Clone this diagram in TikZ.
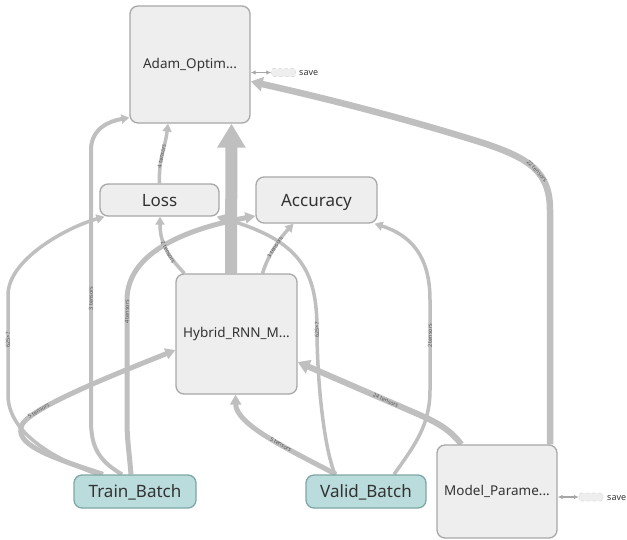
\documentclass[tikz,border=0pt]{standalone}
\usepackage{fontspec}
\setmainfont{Noto Sans}
\usetikzlibrary{arrows.meta,calc,backgrounds}
\definecolor{edgegray}{HTML}{BFBFBF}
\definecolor{nodefill}{HTML}{EEEEEE}
\definecolor{nodeline}{HTML}{A8A8A8}
\definecolor{batchfill}{HTML}{BADCDC}
\definecolor{batchline}{HTML}{7FA6A6}
\definecolor{txt}{HTML}{333333}
\definecolor{lbltxt}{HTML}{555555}
\begin{document}
\begin{tikzpicture}[x=1pt,y=-1pt,
  op/.style={draw=nodeline, fill=nodefill, line width=1.3pt, rounded corners=8pt,
             inner sep=0pt, text=txt},
  batch/.style={op, draw=batchline, fill=batchfill},
  big/.style={font=\fontsize{17}{17}\selectfont, text height=12pt, text depth=0pt},
  small/.style={font=\fontsize{13.5}{13.5}\selectfont},
  flow/.style={draw=edgegray, line width=3.5pt, -{Triangle[length=8pt,width=9pt]}},
  wide/.style={flow, line width=5pt, -{Triangle[length=10pt,width=11pt]}},
  heavy/.style={flow, line width=6.5pt, -{Triangle[length=12pt,width=14pt]}},
  lbl/.style={font=\fontsize{5.5}{5.5}\selectfont, text=lbltxt, sloped, inner sep=0pt},
  savebox/.style={draw=gray!55, dashed, fill=nodefill, rounded corners=2pt,
                  minimum width=24pt, minimum height=8pt, inner sep=0pt},
  savetext/.style={anchor=west, font=\fontsize{9}{9}\selectfont, text=txt, inner sep=0pt},
  savelink/.style={draw=gray!70, line width=1.2pt,
                   {Latex[length=5pt,width=4.5pt]}-{Latex[length=5pt,width=4.5pt]}},
  ]
\useasboundingbox (0,0) rectangle (627,539);

% operation nodes
\node[op, small, minimum width=120pt, minimum height=117pt] (adam) at (190,64.5) {Adam\_Optim...};
\node[op, big, minimum width=119pt, minimum height=32pt] (loss) at (159.5,200) {Loss};
\node[op, big, minimum width=121pt, minimum height=46pt] (acc) at (316.5,200) {Accuracy};
\node[op, small, minimum width=121pt, minimum height=120pt] (hyb) at (236.5,334) {Hybrid\_RNN\_M...};
\node[batch, big, minimum width=122pt, minimum height=33pt] (train) at (135,491.5) {Train\_Batch};
\node[batch, big, minimum width=120pt, minimum height=33pt] (valid) at (366,491.5) {Valid\_Batch};
\node[op, small, minimum width=120pt, minimum height=93pt] (model) at (497,491.5) {Model\_Parame...};

% save auxiliaries
\node[savebox] (s1) at (283.5,72.5) {};
\node[savetext] (s1t) at (299,73) {save};
\node[savebox] (s2) at (591,497) {};
\node[savetext] (s2t) at (607,498) {save};
\draw[savelink] (adam.east |- s1) -- (s1.west);
\draw[savelink] (model.east |- s2) -- (s2.west);

\begin{scope}[on background layer]
  % Hybrid -> Adam (heavy trunk)
  \draw[flow, line width=12pt, -{Triangle[length=24pt,width=27pt]}]
    ($(hyb.north)+(-5.5,0)$) -- ($(adam.south)+(41.5,0)$);

  % Loss -> Adam
  \draw[flow] (loss.north) .. controls +(-1,-25) and +(-3,25) ..
    node[lbl, pos=0.45] {4 tensors} ($(adam.south)+(-22,0)$);

  % Train_Batch -> Adam
  \draw[flow, line width=4pt] ($(train.north)+(-13,0)$) .. controls (97,460) and (91,445) .. (91,420)
    -- (91,150) node[lbl, pos=0.45] {3 tensors}
    .. controls (91,128) and (110,121) .. ($(adam.south west)+(0,-6)$);

  % Train_Batch -> Loss
  \draw[flow] ($(train.north)+(-37,0)$) .. controls (48,457) and (8,430) .. (8,395)
    -- (8,295) node[lbl, pos=0.55] {625×?}
    .. controls (8,260) and (65,228) .. ($(loss.south west)+(5,0)$);

  % Train_Batch -> Hybrid
  \draw[wide] ($(train.north)+(-32,0)$) .. controls (43,455) and (14,443) .. (22,425)
    .. controls (30,407) and (126,370) .. ($(hyb.west)+(0,16)$) node[lbl, pos=0.22] {5 tensors};

  % Train_Batch -> Accuracy
  \draw[wide] ($(train.north)+(-4,0)$) .. controls (129,450) and (127,440) .. (127,420)
    -- (127,300) node[lbl, pos=0.9] {4 tensors}
    .. controls (127,255) and (180,230) .. ($(acc.west)+(0,16)$);

  % Valid_Batch -> Loss
  \draw[flow] ($(valid.north)+(-31,0)$) .. controls (323,445) and (317,375) .. (317,330)
    node[lbl, pos=1] {625×?}
    .. controls (317,270) and (300,240) .. ($(loss.south east)+(-3,0)$);

  % Valid_Batch -> Accuracy
  \draw[flow] ($(valid.north)+(28,0)$) .. controls (415,445) and (430,425) .. (430,390)
    -- (430,300) node[lbl, pos=0.6] {2 tensors}
    .. controls (430,255) and (410,235) .. ($(acc.south east)+(-3,0)$);

  % Valid_Batch -> Hybrid
  \draw[wide] ($(valid.north)+(-30,0)$) .. controls (290,450) and (236,425) ..
    node[lbl, pos=0.4] {5 tensors} ($(hyb.south)+(-1,0)$);

  % Model_Parameters -> Hybrid
  \draw[heavy, line width=6pt] ($(model.north west)+(25,0)$) .. controls (450,430) and (440,424) .. (420,415)
    -- ($(hyb.east)+(0,28)$) node[lbl, pos=0.28] {24 tensors};

  % Model_Parameters -> Adam
  \draw[heavy] ($(model.north)+(53,0)$) -- (550,210)
    .. controls (550,172) and (530,158) .. (480,142) node[lbl, pos=0.45] {22 tensors}
    .. controls (400,117) and (320,97) .. ($(adam.east)+(0,17)$);

  % Hybrid -> Loss
  \draw[flow] ($(hyb.north west)+(9,0)$) .. controls (170,258) and (160,245) ..
    node[lbl, pos=0.45] {2 tensors} ($(loss.south)+(0.5,0)$);

  % Hybrid -> Accuracy
  \draw[flow] ($(hyb.north)+(26,0)$) .. controls (268,255) and (280,238) ..
    node[lbl, pos=0.5] {3 tensors} ($(acc.south)+(-23,0)$);
\end{scope}
\end{tikzpicture}
\end{document}
